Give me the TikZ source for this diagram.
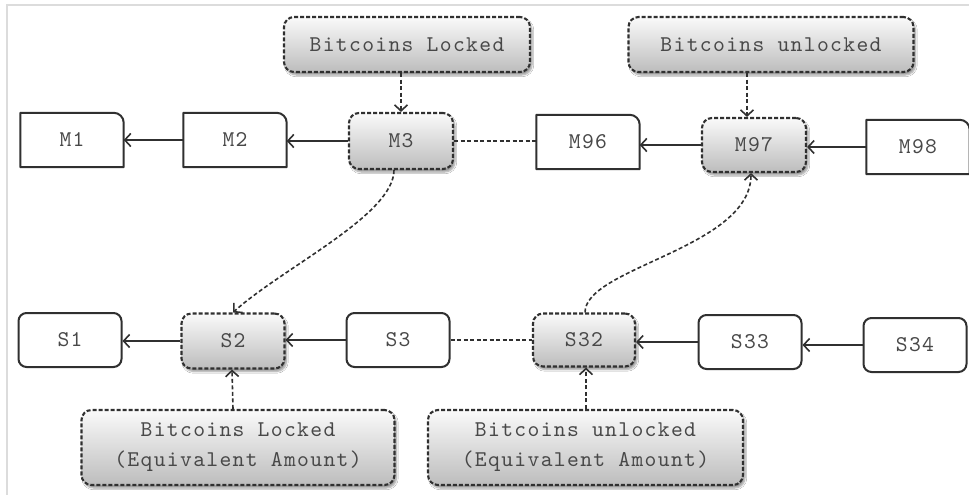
\documentclass[tikz,border=0pt]{standalone}
\usepackage{fontspec}
\setmonofont{lmmono10-regular.otf}[LetterSpace=6]
\usetikzlibrary{arrows.meta,shadows.blur}
\definecolor{txt}{HTML}{484848}
\definecolor{edge}{HTML}{303030}
\definecolor{framegray}{HTML}{DCDCDC}
\tikzset{
  base/.style={font=\ttfamily\fontsize{22.5}{30}\selectfont,
    text=txt, inner sep=0pt, align=center},
  mbox/.style={base, minimum width=103pt, minimum height=54pt},
  mframe/.style={draw=edge, line width=2pt, line join=round},
  sbox/.style={base, draw=edge, line width=2pt, rounded corners=8pt, minimum width=103pt, minimum height=54pt},
  lockbox/.style={base, draw=edge, line width=2.1pt, dash pattern=on 4pt off 2pt,
    rounded corners=10pt, top color=black!2, bottom color=black!26,
    blur shadow={shadow xshift=2pt, shadow yshift=-3pt, shadow blur steps=6, shadow opacity=40}},
  link/.style={draw=edge, line width=1.6pt, -{Straight Barb[length=6pt,width=13pt]}},
  dlink/.style={link, dash pattern=on 4pt off 2.5pt},
  dline/.style={draw=edge, line width=1.6pt, dash pattern=on 4pt off 2.5pt},
}
\begin{document}
\begin{tikzpicture}[x=1pt,y=-1pt]
\useasboundingbox (0,0) rectangle (969,495);
\fill[white] (0,0) rectangle (969,495);
% light frame along top and left
\draw[framegray, line width=2pt] (7,495) -- (7,5) -- (969,5);

% main chain
\node[mbox] (m1) at (72,140) {M1};
\node[mbox] (m2) at (235,140) {M2};
\node[lockbox, minimum width=104pt, minimum height=56pt] (m3) at (401,141) {M3};
\node[mbox] (m96) at (588,142) {M96};
\node[lockbox, minimum width=104pt, minimum height=54pt] (m97) at (754,145) {M97};
\node[mbox] (m98) at (918,147) {M98};
\foreach \n in {m1,m2,m96,m98}
  \draw[mframe] (\n.east) -- (\n.south east) -- (\n.south west) -- (\n.north west)
    -- (\n.north) [rounded corners=10pt] -- (\n.north east) -- (\n.east) [sharp corners] -- cycle;

\node[lockbox, minimum width=246pt, minimum height=55pt] (lockL) at (407,44.5) {Bitcoins Locked};
\node[lockbox, minimum width=285pt, minimum height=55pt] (lockU) at (771,44.5) {Bitcoins unlocked};

% side chain
\node[sbox] (s1) at (70,340) {S1};
\node[lockbox, minimum width=103pt, minimum height=55pt] (s2) at (233,341) {S2};
\node[sbox] (s3) at (398,340) {S3};
\node[lockbox, minimum width=102pt, minimum height=53pt] (s32) at (584,340) {S32};
\node[sbox] (s33) at (750,342) {S33};
\node[sbox] (s34) at (915,345) {S34};

\node[lockbox, minimum width=313pt, minimum height=75pt] (eqL) at (238,447.5) {Bitcoins Locked\\(Equivalent Amount)};
\node[lockbox, minimum width=315pt, minimum height=75pt] (eqU) at (585.5,447.5) {Bitcoins unlocked\\(Equivalent Amount)};

% links in the main chain
\draw[link] (m2.west) -- (m1.east |- m2.west);
\draw[link] (m3.west) -- (m2.east |- m3.west);
\draw[dline] (m3.east) -- (m96.west |- m3.east);
\draw[link] (m97.west) -- (m96.east |- m97.west);
\draw[link] (m98.west) -- (m97.east |- m98.west);
\draw[dlink] (lockL.south -| m3.north) -- (m3.north);
\draw[dlink] ([xshift=-7pt]m97.north |- lockU.south) -- ([xshift=-7pt]m97.north);

% links in the side chain
\draw[link] (s2.west) -- (s1.east |- s2.west);
\draw[link] (s3.west) -- (s2.east |- s3.west);
\draw[dline] (s3.east) -- (s32.west |- s3.east);
\draw[link] (s33.west) -- (s32.east |- s33.west);
\draw[link] (s34.west) -- (s33.east |- s34.west);
\draw[dlink] (s2.south |- eqL.north) -- ([xshift=-1pt]s2.south);
\draw[dlink] ([xshift=2pt]s32.south |- eqU.north) -- ([xshift=2pt]s32.south);

% cross links between the chains
\draw[dlink] ([xshift=-7pt]m3.south) .. controls +(0,45) and +(50,-45) .. (s2.north);
\draw[dlink] ([xshift=1pt]s32.north) .. controls +(0,-45) and +(0,75) .. ([xshift=-3pt]m97.south);
\end{tikzpicture}
\end{document}
